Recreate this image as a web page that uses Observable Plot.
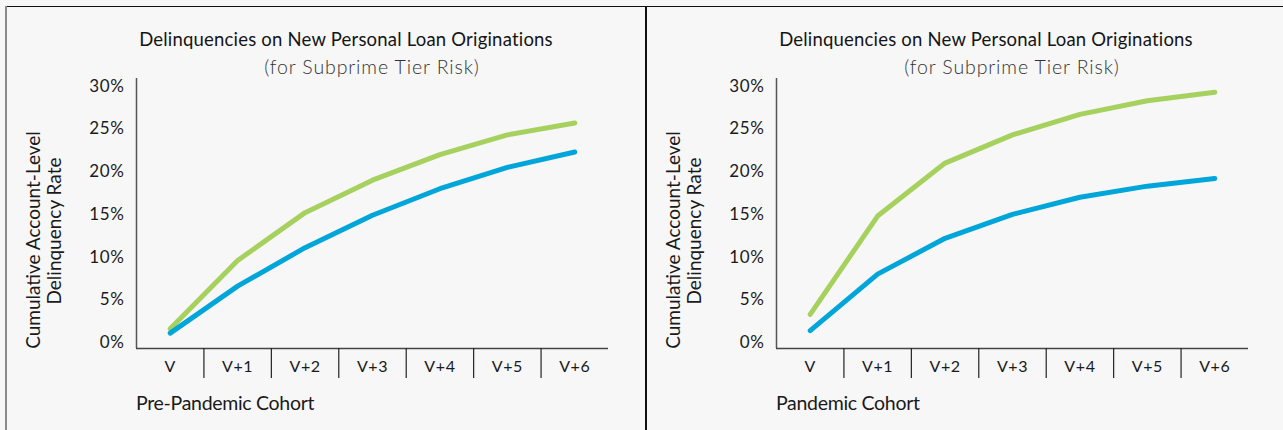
<!DOCTYPE html>
<html>
<head>
<meta charset="utf-8">
<script src="https://cdn.jsdelivr.net/npm/d3@7"></script>
<script src="https://cdn.jsdelivr.net/npm/@observablehq/plot@0.6"></script>
<style>
  html, body { margin: 0; padding: 0; background: #f7f7f7; }
  #wrap { position: relative; width: 1283px; height: 430px; overflow: hidden; background: #f7f7f7; font-family: Lato, "Open Sans", sans-serif; color: #1a1a1a; }
  .border-top { position: absolute; left: 5px; top: 6px; width: 1278px; height: 0; border-top: 1.5px solid #111; }
  .border-left { position: absolute; left: 5px; top: 6px; width: 0; height: 424px; border-left: 2px solid #8a8a8a; }
  .divider { position: absolute; left: 645px; top: 6px; width: 0; height: 424px; border-left: 2px solid #111; }
  .panel { position: absolute; top: 0; width: 640px; height: 430px; }
  .title { position: absolute; top: 28px; width: 600px; text-align: center; font-size: 18.5px; letter-spacing: 0.2px; white-space: nowrap; line-height: 22px; color: #151515; }
  .subtitle { position: absolute; top: 56px; width: 500px; text-align: center; font-size: 19.5px; font-weight: 300; color: #333; letter-spacing: 0.9px; white-space: nowrap; line-height: 22px; }
  .ylabel { position: absolute; width: 300px; transform: translate(-50%, -50%) rotate(-90deg); text-align: center; font-size: 19px; line-height: 21px; white-space: nowrap; }
  .foot { position: absolute; left: 136px; top: 392px; font-size: 19.5px; letter-spacing: -0.3px; white-space: nowrap; line-height: 22px; }
  .plot { position: absolute; left: 0; top: 0; }
</style>
</head>
<body>
<div id="wrap">
  <div class="border-top"></div>
  <div class="border-left"></div>
  <div class="divider"></div>
</div>
<script>
// ---- Data ----
const cohorts = ["V", "V+1", "V+2", "V+3", "V+4", "V+5", "V+6"];
const yTicks = [0, 5, 10, 15, 20, 25, 30];

const prePandemicGreen = [1.6, 9.6, 15.2, 19.0, 22.0, 24.3, 25.7];
const prePandemicBlue  = [1.1, 6.6, 11.1, 14.9, 18.0, 20.5, 22.3];
const pandemicGreen    = [3.3, 14.8, 21.0, 24.3, 26.7, 28.3, 29.3];
const pandemicBlue     = [1.4, 8.0, 12.2, 15.0, 17.0, 18.3, 19.2];

const panelTitle = "Delinquencies on New Personal Loan Originations";
const panelSubtitle = "(for Subprime Tier Risk)";
const yLabelLines = ["Cumulative Account-Level", "Delinquency Rate"];
const panelFeet = ["Pre-Pandemic Cohort", "Pandemic Cohort"];

const GREEN = "#a6d15f";
const BLUE = "#00a6d9";

function rows(values) {
  return values.map((v, i) => ({ i, cohort: cohorts[i], value: v }));
}

function makePanel(left, green, blue, foot) {
  const wrap = document.getElementById("wrap");
  const panel = document.createElement("div");
  panel.className = "panel";
  panel.style.left = left + "px";

  const idx = cohorts.map((c, i) => i);
  const seps = cohorts.slice(1).map((c, i) => i + 0.5);
  const yMin = -0.7, yMax = 30.9, sepBottom = -4.2;
  const font = "Lato, 'Open Sans', sans-serif";

  const chart = Plot.plot({
    width: 628,
    height: 390,
    marginLeft: 136,
    marginRight: 20,
    marginTop: 78,
    marginBottom: 42,
    style: { background: "transparent", fontFamily: font, overflow: "visible" },
    x: { type: "linear", domain: [-0.5, cohorts.length - 0.5] },
    y: { domain: [yMin, yMax] },
    marks: [
      Plot.axisY(yTicks, { tickSize: 0, tickPadding: 12, tickFormat: d => d + "%", fontSize: 17, fill: "#1a1a1a", label: null }),
      Plot.axisX(idx, { tickSize: 0, tickPadding: 12, tickFormat: i => cohorts[i], fontSize: 16, fill: "#1a1a1a", label: null }),
      Plot.ruleX([-0.5], { y1: yMin, y2: yMax, stroke: "#555", strokeWidth: 1.5 }),
      Plot.ruleY([yMin], { x1: -0.5, x2: cohorts.length - 0.5, stroke: "#444", strokeWidth: 1.5 }),
      Plot.ruleX(seps, { y1: yMin, y2: sepBottom, stroke: "#222", strokeWidth: 1.2 }),
      Plot.line(rows(green), { x: "i", y: "value", stroke: GREEN, strokeWidth: 5, strokeLinecap: "round", strokeLinejoin: "round" }),
      Plot.line(rows(blue), { x: "i", y: "value", stroke: BLUE, strokeWidth: 5, strokeLinecap: "round", strokeLinejoin: "round" })
    ]
  });
  chart.classList.add("plot");
  chart.querySelectorAll("text").forEach(t => t.setAttribute("letter-spacing", "0.6"));
  panel.appendChild(chart);

  const t = document.createElement("div");
  t.className = "title"; t.textContent = panelTitle;
  t.style.left = (346 - 300) + "px";
  panel.appendChild(t);

  const s = document.createElement("div");
  s.className = "subtitle"; s.textContent = panelSubtitle;
  s.style.left = (372 - 250) + "px";
  panel.appendChild(s);

  const ylPos = [[32, 240], [53, 231]];
  yLabelLines.forEach((line, k) => {
    const yl = document.createElement("div");
    yl.className = "ylabel";
    yl.textContent = line;
    yl.style.left = ylPos[k][0] + "px";
    yl.style.top = ylPos[k][1] + "px";
    panel.appendChild(yl);
  });

  const f = document.createElement("div");
  f.className = "foot"; f.textContent = foot;
  panel.appendChild(f);

  wrap.appendChild(panel);
}

makePanel(0, prePandemicGreen, prePandemicBlue, panelFeet[0]);
makePanel(640, pandemicGreen, pandemicBlue, panelFeet[1]);
</script>
</body>
</html>
